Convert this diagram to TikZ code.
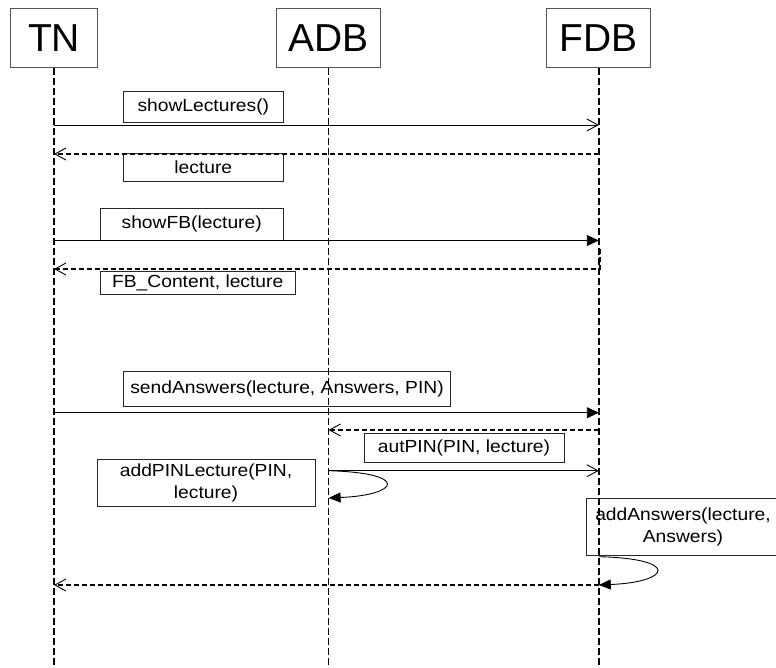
\documentclass[tikz,border=0pt]{standalone}
\usepackage{fontspec}
\setmainfont{Liberation Sans}
\newfontfamily\lblfont[FakeStretch=1.1]{Liberation Sans}
\usetikzlibrary{arrows.meta, positioning}
\definecolor{boxgray}{RGB}{85,85,85}

\begin{document}
\begin{tikzpicture}[
    x=1pt, y=-1pt,
    actor/.style={rectangle, draw=boxgray, line width=0.9pt,
        minimum width=104pt, minimum height=59.4pt, inner sep=0pt,
        font=\fontsize{39}{44}\selectfont},
    msglabel/.style={rectangle, draw=black!85, line width=0.8pt,
        inner sep=0pt, align=center,
        font=\lblfont\fontsize{17.5}{22}\selectfont},
    lifeline/.style={line width=1.4pt, dash pattern=on 7pt off 3pt},
    call/.style={line width=0.9pt, -{Straight Barb[length=11pt, width=12pt]}},
    sync/.style={line width=0.9pt, -{Triangle[length=12pt, width=11pt]}},
    reply/.style={line width=1.4pt, dash pattern=on 5pt off 3pt,
        -{Straight Barb[length=11pt, width=12pt, line width=0.9pt]}},
    selfcall/.style={line width=0.9pt, -{Triangle[length=12pt, width=10pt]}}
]
\useasboundingbox (0,0) rectangle (776,668);
\node[actor, minimum width=86.6pt] (tn) at (54,38) {TN};
\node[actor, right=178.4pt of tn] (adb) {ADB};
\node[actor, right=165.3pt of adb] (fdb) {FDB};
\coordinate (bot) at (0,668);
\draw[lifeline] (tn.south) -- (tn |- bot);
\draw[lifeline] (adb.south) -- (adb |- bot);
\draw[lifeline] (fdb.south) -- (fdb |- bot);
\coordinate (r1) at (0,125);
\coordinate (r2) at (0,154);
\coordinate (r3) at (0,240.5);
\coordinate (r4a) at (0,249);
\coordinate (r4) at (0,269);
\coordinate (r5) at (0,412.7);
\coordinate (r6) at (0,430);
\coordinate (r7) at (0,470.7);
\coordinate (r7b) at (0,498);
\coordinate (r8a) at (0,556.7);
\coordinate (r8) at (0,585);
\node[msglabel, minimum width=160pt, minimum height=31pt] (showlec) at (203.3,106.5) {showLectures()};
\node[msglabel, minimum width=160pt, minimum height=28pt] (lec) at (203.3,167.2) {lecture};
\node[msglabel, minimum width=182.5pt, minimum height=32pt] (showfb) at (191.7,224) {showFB(lecture)};
\node[msglabel, minimum width=194.5pt, minimum height=23pt] (fbcont) at (197.7,282.5) {FB\_Content, lecture};
\node[msglabel, minimum width=327pt, minimum height=35pt] (sendans) at (287,389.2) {sendAnswers(lecture, Answers, PIN)};
\node[msglabel, minimum width=200pt, minimum height=29pt] (autpin) at (464,447.5) {autPIN(PIN, lecture)};
\node[msglabel, minimum width=218pt, minimum height=47pt] (addpin) at (206,482.5) {addPINLecture(PIN,\\lecture)};
\node[msglabel, minimum width=194pt, minimum height=57pt] (addans) at (683,526.5) {addAnswers(lecture,\\Answers)};
\draw[call] (tn |- r1) -- (fdb |- r1);
\draw[reply] (fdb |- r2) -- (tn |- r2);
\draw[sync] (tn |- r3) -- (fdb |- r3);
\draw[reply] ([xshift=1pt]fdb |- r4a) |- (tn |- r4);
\draw[sync] (tn |- r5) -- (fdb |- r5);
\draw[reply] (fdb |- r6) -- (adb |- r6);
\draw[call] (adb |- r7) -- (fdb |- r7);
\draw[selfcall] (adb |- r7) .. controls +(82,2.3) and +(71,-3) .. (adb |- r7b);
\draw[selfcall] (fdb |- r8a) .. controls +(82,2) and +(72,-3) .. (fdb |- r8);
\draw[reply] (fdb |- r8) -- (tn |- r8);
\end{tikzpicture}
\end{document}
